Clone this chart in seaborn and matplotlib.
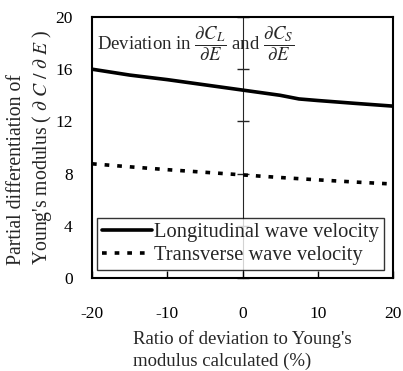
import numpy as np
import pandas as pd
import matplotlib
matplotlib.use("Agg")
import matplotlib.pyplot as plt
import seaborn as sns

# Ratio of deviation to the calculated Young's modulus (%)
dev_long = [-20, -15, -10, -5, 0, 5, 7.5, 10, 15, 20]
dc_long = [16.0, 15.55, 15.2, 14.8, 14.4, 14.0, 13.72, 13.6, 13.38, 13.17]
dev_trans = [-20, -15, -10, -5, 0, 5, 10, 15, 20]
dc_trans = [8.75, 8.52, 8.3, 8.1, 7.9, 7.7, 7.52, 7.35, 7.2]
series_names = ["Longitudinal wave velocity", "Transverse wave velocity"]
x_ticks = [-20, -10, 0, 10, 20]
y_ticks = [0, 4, 8, 12, 16, 20]

df = pd.concat([
    pd.DataFrame({"dev": dev_long, "dC": dc_long, "wave": series_names[0]}),
    pd.DataFrame({"dev": dev_trans, "dC": dc_trans, "wave": series_names[1]}),
], ignore_index=True)

sns.set_style("ticks")
plt.rcParams["font.family"] = ["Liberation Serif", "DejaVu Serif"]
plt.rcParams["mathtext.fontset"] = "stix"

fig = plt.figure(figsize=(4.03, 3.71), dpi=100)
ax = fig.add_axes([0.2283, 0.2507, 0.7469, 0.7035])

sns.lineplot(data=df, x="dev", y="dC", hue="wave", style="wave",
             palette=["black", "black"],
             dashes={series_names[0]: "", series_names[1]: (1.3, 2.2)},
             linewidth=2.6, ax=ax, legend=True, sort=False)

ax.set_xlim(-20, 20)
ax.set_ylim(0, 20)
ax.set_xticks(x_ticks)
ax.set_yticks(y_ticks)
ax.set_xticklabels([str(v) for v in x_ticks])
ax.set_yticklabels([str(v) for v in y_ticks])

for side in ["left", "right", "top", "bottom"]:
    ax.spines[side].set_visible(True)
    ax.spines[side].set_linewidth(1.5)
    ax.spines[side].set_color("black")

ax.tick_params(axis="x", direction="in", length=5, width=1.0, pad=20,
               labelsize=12.5, colors="black")
ax.tick_params(axis="y", length=0, pad=14, labelsize=12.5, colors="black")

# Central axis at zero deviation carrying the crossing y ticks
mid = ax.secondary_yaxis(0.5)
mid.spines["left"].set_linewidth(1.0)
mid.set_yticks(y_ticks)
mid.set_yticklabels([])
mid.tick_params(direction="inout", length=9, width=1.0,
                labelleft=False, labelright=False)

ax.set_xlabel("Ratio of deviation to Young's\nmodulus calculated (%)",
              fontsize=13.5, multialignment="left", labelpad=6, linespacing=1.35)
ax.set_ylabel("Partial differentiation of\n"
              r"Young's modulus ( $\partial\ C\ /\ \partial\ E$ )",
              fontsize=14.2, multialignment="left", labelpad=1, linespacing=1.2)

ax.text(0.017, 0.874,
        r"Deviation in $\dfrac{\partial C_L}{\partial E}$ and $\dfrac{\partial C_S}{\partial E}$",
        transform=ax.transAxes, fontsize=13.5, ha="left", va="baseline")

leg = ax.legend(loc="lower left", bbox_to_anchor=(0.017, 0.031),
                borderaxespad=0, frameon=True, fancybox=False,
                fontsize=14.8, handlelength=2.4, handletextpad=0.12,
                borderpad=0.25, labelspacing=0.15, title=None)
leg.get_frame().set_edgecolor("black")
leg.get_frame().set_linewidth(1.0)
for line in leg.get_lines():
    line.set_linewidth(2.6)

fig.savefig("out.png", dpi=100)
